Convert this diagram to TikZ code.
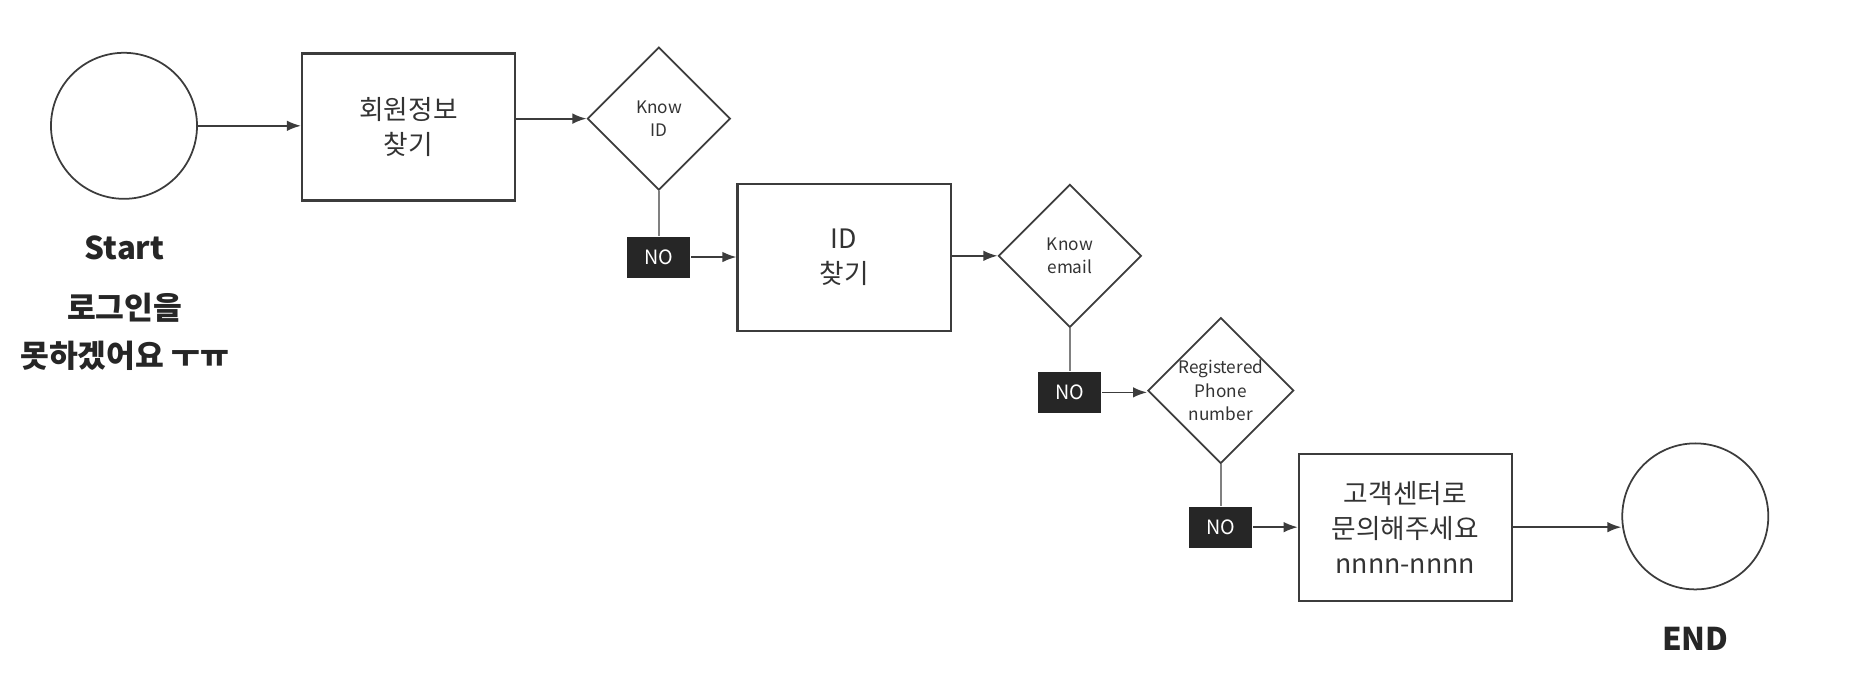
\documentclass[tikz,border=0pt]{standalone}
\usepackage{fontspec}
\setmainfont{Noto Sans CJK KR}
\usepackage{xcolor}
\usepackage{tikz}
\usetikzlibrary{shapes.geometric, positioning}
\usetikzlibrary{calc, arrows.meta}

\definecolor{linegray}{HTML}{3C3C3C}
\definecolor{textgray}{HTML}{333333}
\definecolor{nofill}{HTML}{262626}

\begin{document}
\begin{tikzpicture}[x=0.01198cm, y=-0.01198cm, every node/.style={inner sep=0pt, text=textgray},
    endpt/.style={draw=linegray, circle, minimum size=1.46cm, line width=0.5pt},
    procbox/.style={draw=linegray, minimum width=2.13cm, minimum height=1.47cm, align=center, line width=0.6pt, font=\fontsize{7.6}{10}\selectfont},
    ask/.style={draw=linegray, diamond, minimum size=1.43cm, align=center, line width=0.5pt, font=\fontsize{4.9}{6.7}\selectfont},
    nobox/.style={fill=nofill, text=white, minimum width=0.63cm, minimum height=0.41cm, font=\fontsize{5.6}{7}\selectfont},
    bold/.style={align=center, text=black!85, font=\bfseries\fontsize{8.9}{13.6}\selectfont},
    arr/.style={draw=linegray, line width=0.5pt, -{Latex[length=4pt, width=3pt]}},
    link/.style={draw=gray, line width=0.4pt}]
    \useasboundingbox (0,0) rectangle (1560,566);
    % start
    \node[endpt] (start) at (103.5,105) {};
    \node[bold] (startlbl) at (104,207) {Start};
    \node[bold] (startmsg) at (104,277) {로그인을\\못하겠어요 ㅜㅠ};
    % steps
    \node[procbox] (findinfo) at (341,106) {회원정보\\찾기};
    \node[ask] (knowid) at (550,99) {Know\\ID};
    \node[nobox] (no1) at (550,214.5) {NO};
    \node[procbox] (findid) at (704.5,215) {ID\\찾기};
    \node[ask] (knowemail) at (893,213.5) {Know\\email};
    \node[nobox] (no2) at (893,327.5) {NO};
    \node[ask] (knowphone) at (1019,326) {Registered\\Phone\\number};
    \node[nobox] (no3) at (1019,440) {NO};
    \node[procbox] (callcenter) at (1173,440) {고객센터로\\문의해주세요\\nnnn-nnnn};
    % end
    \node[endpt] (finish) at (1415,431) {};
    \node[bold] (finishlbl) at (1415,533) {END};
    % arrows
    \draw[arr] (start.east) -- (start.east -| findinfo.west);
    \draw[arr] (findinfo.east |- knowid.west) -- (knowid.west);
    \draw[arr] (no1) -- (no1 -| findid.west);
    \draw[arr] (findid.east |- knowemail.west) -- (knowemail.west);
    \draw[arr] (no2) -- (no2 -| knowphone.west);
    \draw[arr] (no3) -- (callcenter);
    \draw[arr] (callcenter.east) -- (callcenter.east -| finish.west);
    \foreach \q/\n in {knowid/no1, knowemail/no2, knowphone/no3} {
        \draw[link] (\q.south) -- (\n.north);
    }
\end{tikzpicture}
\end{document}
